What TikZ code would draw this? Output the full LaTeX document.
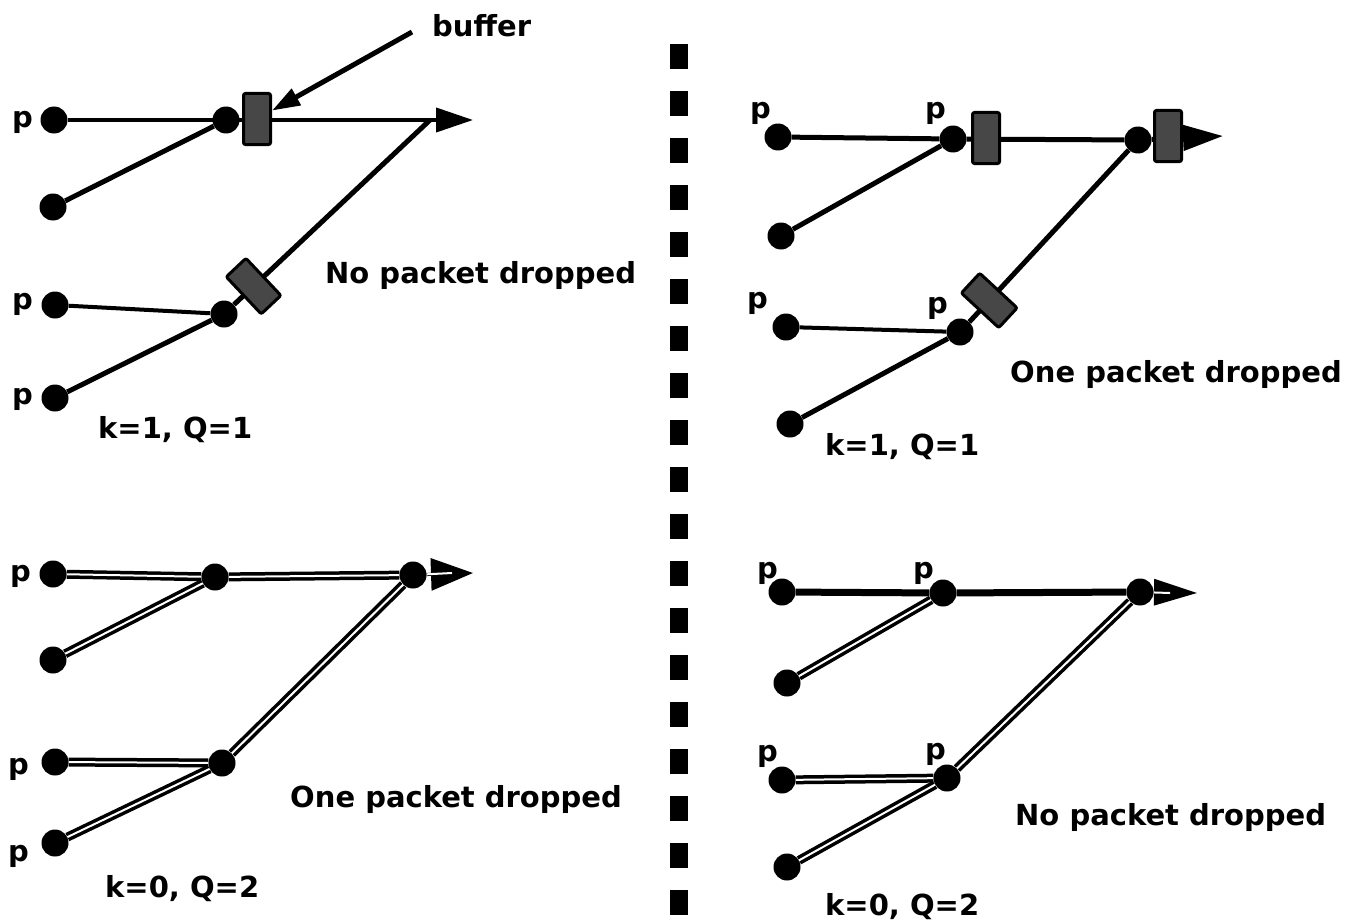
\documentclass[tikz,border=0pt]{standalone}
\usepackage{fontspec}
\setmainfont{DejaVu Sans}
\usetikzlibrary{arrows.meta,backgrounds,calc}
\begin{document}
\begin{tikzpicture}[x=1pt,y=-1pt,
  dot/.style={circle,fill=black,inner sep=0pt,minimum size=27pt},
  buf/.style={rectangle,draw=black,fill=black!72,line width=3pt,rounded corners=2pt,minimum width=27pt,minimum height=51pt,inner sep=0pt},
  lbl/.style={anchor=base west,inner sep=0pt,font=\fontsize{29}{32}\selectfont\bfseries},
  wire/.style={line width=5pt},
  hwire/.style={line width=4pt},
  dbl/.style={line width=3.5pt,double=white,double distance=2pt},
  heavy/.style={line width=7pt},
  notch/.style={white,line width=2pt},
  divider/.style={line width=18pt,dash pattern=on 25pt off 22pt}
]
\useasboundingbox (0,0) rectangle (1348,923);

% divider
\coordinate (div-top) at (679,44);
\coordinate (div-bot) at (679,923);
\draw[divider] (div-top) -- (div-bot);

% ================= top left =================
\node[dot] (tl-p1) at (54,120) {};
\node[dot] (tl-j1) at (226,120) {};
\node[dot] (tl-p2) at (53,207) {};
\node[dot] (tl-p3) at (55,305) {};
\node[dot] (tl-j2) at (224,314) {};
\node[dot] (tl-p4) at (55,398) {};
\coordinate (tl-out) at (473,120);
\coordinate (tl-m) at (430,120);
\node[buf] (tl-b1) at (257,119) {};
\path (tl-m) -- (tl-j2) node[buf,sloped,pos=0.9] (tl-b2) {};
\node[lbl] (tl-l1) at (12,128) {p};
\node[lbl] (tl-l3) at (12,309) {p};
\node[lbl] (tl-l4) at (12,404) {p};
\node[lbl] (buflbl) at (432,37) {buffer};
\coordinate (bufarrow-start) at (412,32);
\node[lbl] (tl-txt) at (325,283) {No packet dropped};
\node[lbl] (tl-kq) at (98,438) {k=1, Q=1};

% ================= top right =================
\node[dot] (tr-p1) at (778,137) {};
\node[dot] (tr-j1) at (953,139) {};
\node[dot] (tr-j3) at (1138,140) {};
\node[dot] (tr-p2) at (781,236) {};
\node[dot] (tr-p3) at (786,327) {};
\node[dot] (tr-j2) at (960,332) {};
\node[dot] (tr-p4) at (790,424) {};
\coordinate (tr-out) at (1223,136);
\node[buf] (tr-b1) at (986,138) {};
\node[buf] (tr-b2) at (1168,136) {};
\path (tr-j3) -- (tr-j2) node[buf,sloped,pos=0.875] (tr-b3) {};
\node[lbl] (tr-l1) at (750,119) {p};
\node[lbl] (tr-l2) at (925,119) {p};
\node[lbl] (tr-l3) at (747,308) {p};
\node[lbl] (tr-l4) at (927,313) {p};
\node[lbl] (tr-txt) at (1010,382) {One packet dropped};
\node[lbl] (tr-kq) at (825,455) {k=1, Q=1};

% ================= bottom left =================
\node[dot] (bl-p1) at (53,574) {};
\node[dot] (bl-j1) at (215,577) {};
\node[dot] (bl-j3) at (413,575) {};
\node[dot] (bl-p2) at (53,660) {};
\node[dot] (bl-p3) at (55,762) {};
\node[dot] (bl-j2) at (222,763) {};
\node[dot] (bl-p4) at (55,843) {};
\coordinate (bl-out) at (473,573);
\coordinate (bl-notch) at (452,573);
\node[lbl] (bl-l1) at (10,581) {p};
\node[lbl] (bl-l3) at (8,774) {p};
\node[lbl] (bl-l4) at (8,861) {p};
\node[lbl] (bl-txt) at (290,807) {One packet dropped};
\node[lbl] (bl-kq) at (105,897) {k=0, Q=2};

% ================= bottom right =================
\node[dot] (br-p1) at (782,592) {};
\node[dot] (br-j1) at (943,593) {};
\node[dot] (br-j3) at (1140,592) {};
\node[dot] (br-p2) at (787,683) {};
\node[dot] (br-p3) at (782,780) {};
\node[dot] (br-j2) at (947,778) {};
\node[dot] (br-p4) at (787,867) {};
\coordinate (br-out) at (1197,593);
\coordinate (br-notch) at (1170,593);
\node[lbl] (br-l1) at (757,578) {p};
\node[lbl] (br-l2) at (913,578) {p};
\node[lbl] (br-l3) at (757,761) {p};
\node[lbl] (br-l4) at (925,759) {p};
\node[lbl] (br-txt) at (1015,825) {No packet dropped};
\node[lbl] (br-kq) at (825,915) {k=0, Q=2};

\begin{pgfonlayer}{background}
  % top left
  \draw[hwire,-{Triangle[length=37pt,width=24pt]}] (tl-p1) -- (tl-out);
  \draw[wire] (tl-p2) -- (tl-j1);
  \draw[wire] (tl-m) -- (tl-j2);
  \draw[hwire] (tl-p3) -- (tl-j2);
  \draw[wire] (tl-p4) -- (tl-j2);
  \draw[wire,-{Triangle[length=28pt,width=18pt]}] (bufarrow-start) -- (tl-b1);
  % top right
  \draw[wire] (tr-p1) -- (tr-j1);
  \draw[wire] (tr-j1) -- (tr-j3);
  \draw[wire,-{Triangle[length=40pt,width=25pt]}] (tr-j3) -- (tr-out);
  \draw[wire] (tr-p2) -- (tr-j1);
  \draw[wire] (tr-j3) -- (tr-j2);
  \draw[hwire] (tr-p3) -- (tr-j2);
  \draw[wire] (tr-p4) -- (tr-j2);
  % bottom left
  \draw[dbl] (bl-p1) -- (bl-j1);
  \draw[dbl] (bl-j1) -- (bl-j3);
  \draw[dbl] (bl-p2) -- (bl-j1);
  \draw[dbl] (bl-j3) -- (bl-j2);
  \draw[dbl] (bl-p3) -- (bl-j2);
  \draw[dbl] (bl-p4) -- (bl-j2);
  \draw[line width=3pt,-{Triangle[length=42pt,width=32pt]}] (bl-j3) -- (bl-out);
  \draw[notch] (bl-j3) -- (bl-notch);
  % bottom right
  \draw[heavy] (br-p1) -- (br-j1);
  \draw[heavy] (br-j1) -- (br-j3);
  \draw[dbl] (br-p2) -- (br-j1);
  \draw[dbl] (br-j3) -- (br-j2);
  \draw[dbl] (br-p3) -- (br-j2);
  \draw[dbl] (br-p4) -- (br-j2);
  \draw[line width=3pt,-{Triangle[length=43pt,width=26pt]}] (br-j3) -- (br-out);
  \draw[notch] (br-j3) -- (br-notch);
\end{pgfonlayer}
\end{tikzpicture}
\end{document}
